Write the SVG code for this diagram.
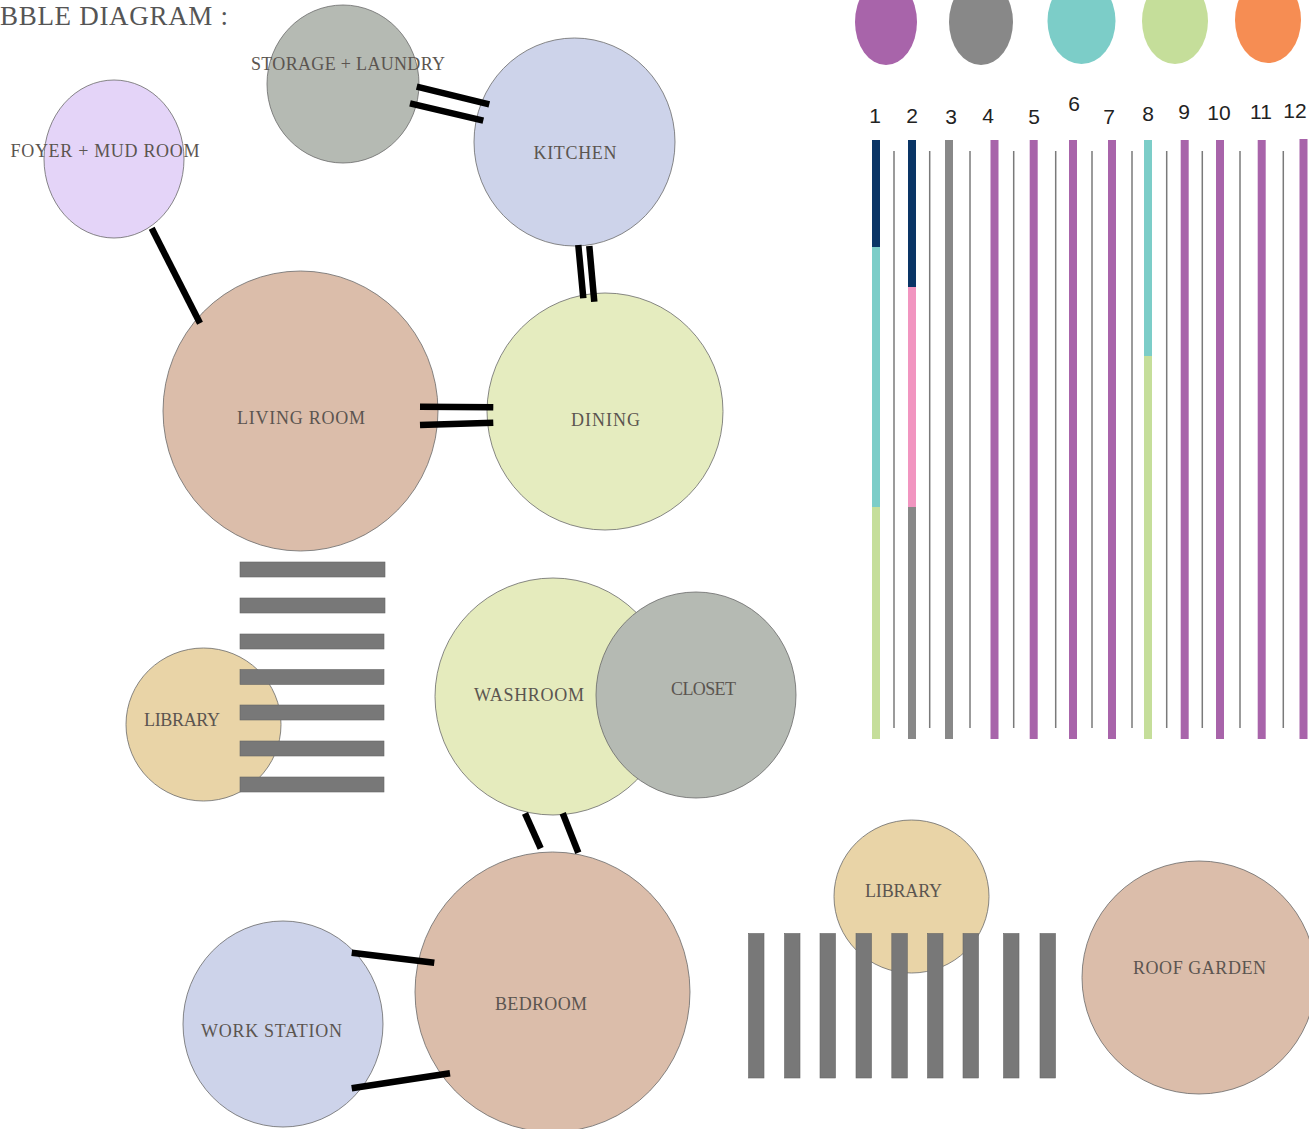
<svg xmlns="http://www.w3.org/2000/svg" width="1309" height="1129" viewBox="0 0 1309 1129">
<style>
.room{stroke:#6a6a6a;stroke-width:0.8}
.lbl{font-family:"Liberation Serif","Times New Roman",serif;font-size:18px;fill:#5b5550;text-anchor:middle}
.title{font-family:"Liberation Serif","Times New Roman",serif;font-size:27px;fill:#555}
.num{font-family:"Liberation Sans",Arial,sans-serif;font-size:21px;fill:#222;text-anchor:middle}
.conn{stroke:#000;stroke-width:6.5;stroke-linecap:butt}
.bar{fill:#787878;stroke:#666;stroke-width:0.6}
.thin{stroke:#7a7a7a;stroke-width:1.5}
.thick{stroke-width:8}
</style>
<rect width="1309" height="1129" fill="#fff"/>
<text class="title" x="0" y="25" textLength="228">BBLE DIAGRAM :</text>

<g id="legend">
<ellipse cx="886" cy="22" rx="31" ry="43" fill="#a864aa"/>
<ellipse cx="981" cy="22" rx="32" ry="43" fill="#888888"/>
<ellipse cx="1081.5" cy="21" rx="34" ry="43" fill="#7ccdc8"/>
<ellipse cx="1175" cy="21" rx="33" ry="43" fill="#c5de9a"/>
<ellipse cx="1268" cy="20" rx="33" ry="43" fill="#f68d53"/>
<g>
<text class="num" x="875" y="123">1</text>
<text class="num" x="912" y="123">2</text>
<text class="num" x="951" y="124">3</text>
<text class="num" x="988" y="123">4</text>
<text class="num" x="1034" y="124">5</text>
<text class="num" x="1074" y="111">6</text>
<text class="num" x="1109" y="124">7</text>
<text class="num" x="1148" y="121">8</text>
<text class="num" x="1184" y="119">9</text>
<text class="num" x="1219" y="120">10</text>
<text class="num" x="1261" y="119">11</text>
<text class="num" x="1295" y="118">12</text>
</g>
<g id="schedule">
<line class="thick" x1="876" y1="140" x2="876" y2="247" stroke="#0a3566"/>
<line class="thick" x1="876" y1="247" x2="876" y2="507" stroke="#7ccdc8"/>
<line class="thick" x1="876" y1="507" x2="876" y2="739" stroke="#c5de9a"/>
<line class="thick" x1="912" y1="140" x2="912" y2="287" stroke="#0a3566"/>
<line class="thick" x1="912" y1="287" x2="912" y2="507" stroke="#f195c0"/>
<line class="thick" x1="912" y1="507" x2="912" y2="739" stroke="#888888"/>
<line class="thick" x1="949" y1="140" x2="949" y2="739" stroke="#888888"/>
<line class="thick" x1="994.5" y1="140" x2="994.5" y2="739" stroke="#a864aa"/>
<line class="thick" x1="1033.7" y1="140" x2="1033.7" y2="739" stroke="#a864aa"/>
<line class="thick" x1="1073" y1="140" x2="1073" y2="739" stroke="#a864aa"/>
<line class="thick" x1="1112" y1="140" x2="1112" y2="739" stroke="#a864aa"/>
<line class="thick" x1="1148" y1="140" x2="1148" y2="356" stroke="#7ccdc8"/>
<line class="thick" x1="1148" y1="356" x2="1148" y2="739" stroke="#c5de9a"/>
<line class="thick" x1="1184.7" y1="140" x2="1184.7" y2="739" stroke="#a864aa"/>
<line class="thick" x1="1220" y1="140" x2="1220" y2="739" stroke="#a864aa"/>
<line class="thick" x1="1261.7" y1="140" x2="1261.7" y2="739" stroke="#a864aa"/>
<line class="thick" x1="1303.5" y1="139" x2="1303.5" y2="739" stroke="#a864aa"/>
<line class="thin" x1="894" y1="151" x2="894" y2="728"/>
<line class="thin" x1="929.7" y1="151" x2="929.7" y2="728"/>
<line class="thin" x1="970" y1="151" x2="970" y2="728"/>
<line class="thin" x1="1013.7" y1="151" x2="1013.7" y2="728"/>
<line class="thin" x1="1055.7" y1="151" x2="1055.7" y2="728"/>
<line class="thin" x1="1092" y1="151" x2="1092" y2="728"/>
<line class="thin" x1="1132" y1="151" x2="1132" y2="728"/>
<line class="thin" x1="1166.7" y1="151" x2="1166.7" y2="728"/>
<line class="thin" x1="1202.3" y1="151" x2="1202.3" y2="728"/>
<line class="thin" x1="1240" y1="151" x2="1240" y2="728"/>
<line class="thin" x1="1283.3" y1="151" x2="1283.3" y2="728"/>
</g>
</g>

<g id="storage-laundry">
<ellipse class="room" cx="343" cy="84" rx="76" ry="79" fill="#b5bab3"/>
<text class="lbl" x="348" y="70" textLength="194">STORAGE + LAUNDRY</text>
</g>
<g id="foyer-mud-room">
<ellipse class="room" cx="114" cy="159" rx="70" ry="79" fill="#e4d4f8"/>
<text class="lbl" x="105" y="157" textLength="189">FOYER + MUD ROOM</text>
</g>
<g id="kitchen">
<ellipse class="room" cx="574.5" cy="142" rx="100.5" ry="104" fill="#cdd3ea"/>
<text class="lbl" x="575" y="159" textLength="83">KITCHEN</text>
</g>
<g id="living-room">
<ellipse class="room" cx="300.5" cy="411" rx="137.5" ry="140" fill="#dbbdaa"/>
<text class="lbl" x="301" y="424" textLength="128">LIVING ROOM</text>
</g>
<g id="dining">
<ellipse class="room" cx="605" cy="411.5" rx="118" ry="118.5" fill="#e5ecbf"/>
<text class="lbl" x="605.5" y="426" textLength="69">DINING</text>
</g>
<g id="library-1">
<ellipse class="room" cx="203.5" cy="724.5" rx="77.5" ry="76.5" fill="#e9d4a7"/>
<text class="lbl" x="182" y="726" textLength="76">LIBRARY</text>
</g>
<g id="washroom">
<ellipse class="room" cx="553" cy="696.5" rx="118" ry="118.5" fill="#e5ebbd"/>
<text class="lbl" x="529" y="701" textLength="110">WASHROOM</text>
</g>
<g id="closet">
<ellipse class="room" cx="696" cy="695" rx="100" ry="103" fill="#b5bab3"/>
<text class="lbl" x="703.5" y="695" textLength="65">CLOSET</text>
</g>
<g id="bedroom">
<ellipse class="room" cx="552.5" cy="992" rx="137.5" ry="140" fill="#dbbdaa"/>
<text class="lbl" x="541" y="1010" textLength="92">BEDROOM</text>
</g>
<g id="work-station">
<ellipse class="room" cx="283" cy="1024" rx="100" ry="103" fill="#cdd3ea"/>
<text class="lbl" x="271.5" y="1037" textLength="141">WORK STATION</text>
</g>
<g id="library-2">
<ellipse class="room" cx="911.5" cy="896.5" rx="77.5" ry="76.5" fill="#e9d4a7"/>
<text class="lbl" x="903.5" y="897" textLength="77">LIBRARY</text>
</g>
<g id="roof-garden">
<ellipse class="room" cx="1199" cy="977.5" rx="117" ry="116.5" fill="#dbbdaa"/>
<text class="lbl" x="1199.5" y="974" textLength="133">ROOF GARDEN</text>
</g>

<g id="stripes-horizontal">
<rect class="bar" x="240" y="562" width="145" height="15"/>
<rect class="bar" x="240" y="598" width="145" height="15"/>
<rect class="bar" x="240" y="634" width="144" height="15"/>
<rect class="bar" x="240" y="669.5" width="144" height="15"/>
<rect class="bar" x="240" y="705" width="144" height="15"/>
<rect class="bar" x="240" y="741" width="144" height="15"/>
<rect class="bar" x="240" y="777" width="144" height="15"/>
</g>
<g id="stripes-vertical">
<rect class="bar" x="748.5" y="933.5" width="15.5" height="144.5"/>
<rect class="bar" x="784.5" y="933.5" width="15.5" height="144.5"/>
<rect class="bar" x="820" y="933.5" width="15.5" height="144.5"/>
<rect class="bar" x="856" y="933.5" width="15.5" height="144.5"/>
<rect class="bar" x="891.8" y="933.5" width="15.5" height="144.5"/>
<rect class="bar" x="927.5" y="933.5" width="15.5" height="144.5"/>
<rect class="bar" x="963" y="933.5" width="15.5" height="144.5"/>
<rect class="bar" x="1003.5" y="933.5" width="15.5" height="144.5"/>
<rect class="bar" x="1040" y="933.5" width="15.5" height="144.5"/>
</g>

<g id="connectors">
<line class="conn" x1="416.7" y1="86.7" x2="489.3" y2="104.3"/>
<line class="conn" x1="410" y1="103.3" x2="483.3" y2="120.7"/>
<line class="conn" x1="578.3" y1="245" x2="583.3" y2="298.3"/>
<line class="conn" x1="589.3" y1="246" x2="594.3" y2="301.7"/>
<line class="conn" x1="420" y1="406.7" x2="493.3" y2="407.3"/>
<line class="conn" x1="420" y1="425" x2="493.3" y2="422.7"/>
<line class="conn" x1="151.7" y1="228.3" x2="200" y2="323.3"/>
<line class="conn" x1="525" y1="813.3" x2="540.7" y2="848.3"/>
<line class="conn" x1="562.7" y1="813.3" x2="578.3" y2="852.7"/>
<line class="conn" x1="351.7" y1="952.7" x2="434.3" y2="962.7"/>
<line class="conn" x1="351.7" y1="1088.3" x2="450" y2="1073.3"/>
</g>
</svg>
